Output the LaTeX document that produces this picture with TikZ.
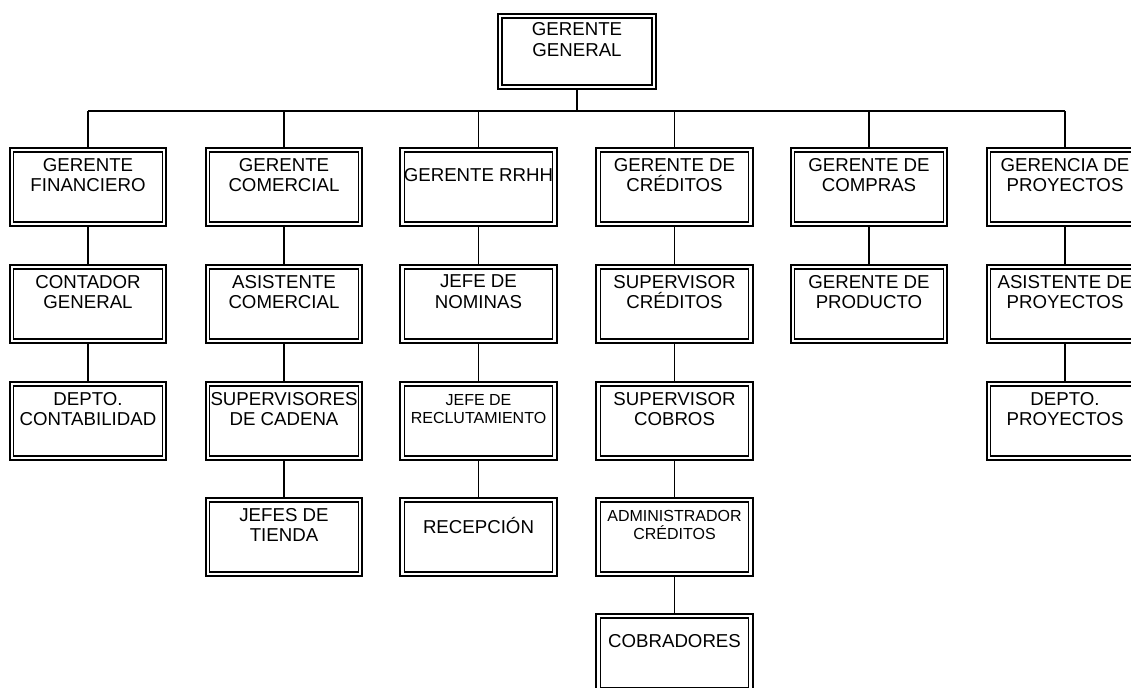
\documentclass[tikz,border=0pt]{standalone}
\usepackage{fontspec}
\setmainfont{Liberation Sans}
\tikzset{
  box/.style={draw, line width=1.5pt, minimum width=117.5pt, minimum height=58.5pt, inner sep=0pt,
    path picture={\draw[line width=0.8pt]
      ([shift={(3pt,-3pt)}]path picture bounding box.north west) rectangle
      ([shift={(-3pt,3pt)}]path picture bounding box.south east);}},
  txt/.style={align=center, font=\fontsize{14}{15.5}\selectfont, inner sep=0pt, anchor=center, yshift=-21pt},
  small/.style={font=\fontsize{12}{13.2}\selectfont},
  link/.style={line width=1.1pt}
}
\begin{document}
\begin{tikzpicture}[x=0.75pt, y=-0.75pt]
\useasboundingbox (0,0) rectangle (1131,688);
\clip (0,0) rectangle (1131,688);
% top
\node[box, minimum width=118.5pt, minimum height=56.25pt, label={[txt,yshift=1pt]north:{GERENTE\\GENERAL}}] (gg) at (577,51.5) {};
% column 1
\node[box, label={[txt]north:{GERENTE\\FINANCIERO}}] (fin) at (88,187) {};
\node[box, label={[txt]north:{CONTADOR\\GENERAL}}] (cont) at (88,304) {};
\node[box, label={[txt]north:{DEPTO.\\CONTABILIDAD}}] (dcont) at (88,421) {};
% column 2
\node[box, label={[txt]north:{GERENTE\\COMERCIAL}}] (com) at (284,187) {};
\node[box, label={[txt]north:{ASISTENTE\\COMERCIAL}}] (acom) at (284,304) {};
\node[box, label={[txt]north:{SUPERVISORES\\DE CADENA}}] (sup) at (284,421) {};
\node[box, label={[txt]north:{JEFES DE\\TIENDA}}] (jt) at (284,537) {};
% column 3
\node[box, label={[txt]north:{GERENTE RRHH}}] (rrhh) at (478.5,187) {};
\node[box, label={[txt]north:{JEFE DE\\NOMINAS}}] (nom) at (478.5,304) {};
\node[box, label={[txt,small]north:{JEFE DE\\RECLUTAMIENTO}}] (recl) at (478.5,421) {};
\node[box, label={[txt]north:{RECEPCIÓN}}] (rec) at (478.5,537) {};
% column 4
\node[box, label={[txt]north:{GERENTE DE\\CRÉDITOS}}] (cred) at (674.5,187) {};
\node[box, label={[txt]north:{SUPERVISOR\\CRÉDITOS}}] (supc) at (674.5,304) {};
\node[box, label={[txt]north:{SUPERVISOR\\COBROS}}] (supcob) at (674.5,421) {};
\node[box, label={[txt,small]north:{ADMINISTRADOR\\CRÉDITOS}}] (adm) at (674.5,537) {};
\node[box, label={[txt]north:{COBRADORES}}] (cob) at (674.5,653) {};
% column 5
\node[box, label={[txt]north:{GERENTE DE\\COMPRAS}}] (comp) at (869,187) {};
\node[box, label={[txt]north:{GERENTE DE\\PRODUCTO}}] (prod) at (869,304) {};
% column 6
\node[box, label={[txt]north:{GERENCIA DE\\PROYECTOS}}] (proy) at (1065,187) {};
\node[box, label={[txt]north:{ASISTENTE DE\\PROYECTOS}}] (aproy) at (1065,304) {};
\node[box, label={[txt]north:{DEPTO.\\PROYECTOS}}] (dproy) at (1065,421) {};
% bus
\coordinate (busL) at (88,111);
\coordinate (busR) at (1065,111);
\draw[link] (busL) -- (busR);
\draw[link] (gg.south) -- (gg.south |- busL);
\foreach \n in {fin,com,rrhh,cred,comp,proy}
  \draw[link] (\n.north |- busL) -- (\n.north);
% verticals
\draw[link] (fin.south) -- (cont.north);
\draw[link] (cont.south) -- (dcont.north);
\draw[link] (com.south) -- (acom.north);
\draw[link] (acom.south) -- (sup.north);
\draw[link] (sup.south) -- (jt.north);
\draw[link] (rrhh.south) -- (nom.north);
\draw[link] (nom.south) -- (recl.north);
\draw[link] (recl.south) -- (rec.north);
\draw[link] (cred.south) -- (supc.north);
\draw[link] (supc.south) -- (supcob.north);
\draw[link] (supcob.south) -- (adm.north);
\draw[link] (adm.south) -- (cob.north);
\draw[link] (comp.south) -- (prod.north);
\draw[link] (proy.south) -- (aproy.north);
\draw[link] (aproy.south) -- (dproy.north);
\end{tikzpicture}
\end{document}
